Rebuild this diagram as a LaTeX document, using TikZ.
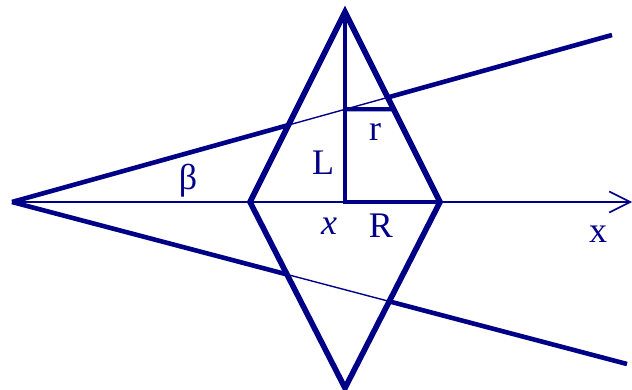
\documentclass[tikz,border=0pt]{standalone}
\usepackage{fontspec}
\setmainfont{Liberation Serif}
\usetikzlibrary{arrows.meta}
\definecolor{navy}{RGB}{0,0,135}
\tikzset{
  rhomb/.style={line width=5.6pt, draw=navy, line join=miter},
  raythick/.style={line width=4.6pt, draw=navy, line cap=butt},
  raythin/.style={line width=1.4pt, draw=navy},
  axisline/.style={line width=1.6pt, draw=navy, -{Straight Barb[length=21pt,width=21pt,line width=1.6pt]}},
  leg/.style={line width=4.2pt, draw=navy},
  lbl/.style={font=\fontsize{36}{40}\selectfont, text=navy, inner sep=0pt, anchor=base},
}

\begin{document}
\begin{tikzpicture}[x=1pt,y=-1pt]
\useasboundingbox (0,0) rectangle (632,390);
% points
\coordinate (O) at (12,202);
\coordinate (E) at (632,202);
\coordinate (T) at (345,12);
\coordinate (B) at (345,388);
\coordinate (W) at (250,202);
\coordinate (R) at (440,202);
\coordinate (F) at (345,202);
\coordinate (U) at (612,35);
\coordinate (D) at (627,364);
% crossings of the rays with the rhombus
\coordinate (UW) at (intersection of O--U and W--T);
\coordinate (UR) at (intersection of O--U and T--R);
\coordinate (DW) at (intersection of O--D and W--B);
\coordinate (DR) at (intersection of O--D and B--R);
\coordinate (H) at (intersection of O--U and T--F);
\coordinate (HR) at (intersection of H--[xshift=100pt]H and T--R);
% axis
\draw[axisline] (O) -- (E);
% rays
\draw[raythin] (UW) -- (UR);
\draw[raythin] (DW) -- (DR);
\draw[raythick] (O) -- (UW);
\draw[raythick] (UR) -- (U);
\draw[raythick] (O) -- (DW);
\draw[raythick] (DR) -- (D);
% rhombus
\draw[rhomb] (T) -- (R) -- (B) -- (W) -- cycle;
\draw[leg] (T) -- (F) -- (R);
\draw[leg] (H) -- (HR);
% labels
\node[lbl, anchor=center] (beta) at (188,181) {β};
\node[lbl] (Llbl) at (323,175) {L};
\node[lbl] (rlbl) at (375,141) {r};
\node[lbl] (xlbl) at (329,235) {\textit{x}};
\node[lbl] (Rlbl) at (381,237) {R};
\node[lbl] (axlbl) at (598,243) {x};
\end{tikzpicture}
\end{document}
